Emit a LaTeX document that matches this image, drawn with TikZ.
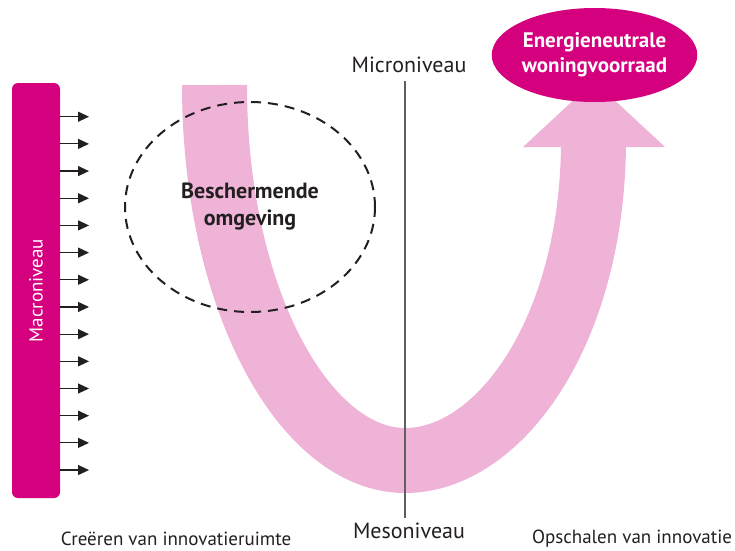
\documentclass[tikz,border=0pt]{standalone}
\usepackage{fontspec}
\setmainfont{PT Sans}
\usetikzlibrary{arrows.meta,shapes.geometric}
\definecolor{mag}{RGB}{212,0,126}
\definecolor{pinkband}{RGB}{240,179,216}
\definecolor{ink}{RGB}{35,31,32}
\definecolor{rule}{RGB}{95,95,95}
\begin{document}
\begin{tikzpicture}[x=1pt,y=-1pt,
  lbl/.style={text=ink, font=\fontsize{19}{23}\selectfont, inner sep=0pt},
  levellbl/.style={text=ink, font=\fontsize{22}{26}\selectfont, inner sep=0pt},
  whitelbl/.style={text=white, font=\bfseries\fontsize{21}{25}\selectfont, align=center, inner sep=0pt},
  pusharrow/.style={draw=ink, line width=1.2pt, -{Triangle[length=11pt,width=10pt]}}]
\useasboundingbox (0,0) rectangle (735,550);
% pink U band
\draw[pinkband, line width=65pt]
  (214.5,85) .. controls (214.5,300) and (305,460.5) .. (405,460.5)
  .. controls (500,460.5) and (593.5,330) .. (593.5,140);
\fill[pinkband] (523,147) -- (665,147) -- (594,81) -- cycle;
% goal ellipse
\node[ellipse, fill=mag, minimum width=193pt, minimum height=94pt, inner sep=0pt, whitelbl] (goal) at (594.5,55) {Energieneutrale\\woningvoorraad};
% protective environment
\node[ellipse, draw=ink, dash pattern=on 10pt off 7pt, line width=2pt, minimum width=250pt, minimum height=210pt, inner sep=0pt, text=ink, font=\bfseries\fontsize{22}{27}\selectfont, align=center] (env) at (250,207) {Beschermende\\omgeving};
% macro bar
\node[fill=mag, rounded corners=6pt, minimum width=48pt, minimum height=415pt, inner sep=0pt] (macro) at (36,290.5) {};
\node[rotate=90, text=white, font=\fontsize{19}{22}\selectfont, inner sep=0pt] (macrotxt) at (macro.center) {Macroniveau};
\foreach \i in {0,...,13}{
  \coordinate (a\i) at (89,{116.7+27.18*\i});
  \draw[pusharrow] (macro.east |- a\i) -- (a\i);
}
% levels
\node[levellbl] (micro) at (409,65) {Microniveau};
\node[levellbl] (meso) at (409,531) {Mesoniveau};
\coordinate (vt) at (405,81);
\coordinate (vb) at (405,518);
\draw[rule, line width=1.2pt] (vt) -- (vb);
\node[lbl] (create) at (176,538.5) {Creëren van innovatieruimte};
\node[lbl] (scale) at (632,538.5) {Opschalen van innovatie};
\end{tikzpicture}
\end{document}
